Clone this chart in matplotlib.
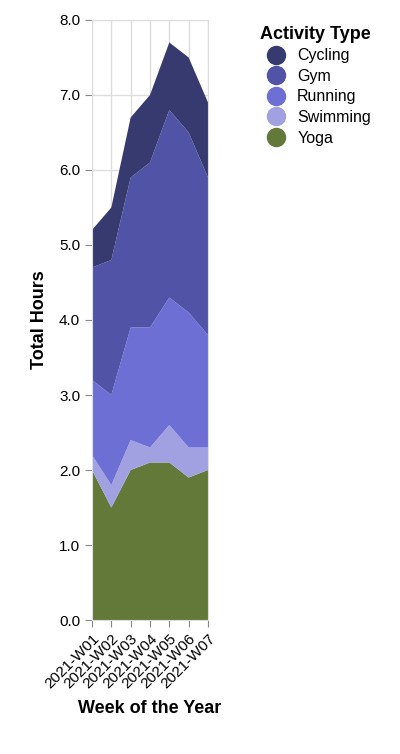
import matplotlib
matplotlib.use("Agg")
import matplotlib.pyplot as plt
from matplotlib.lines import Line2D
import numpy as np

weeks = ["2021-W01","2021-W02","2021-W03","2021-W04","2021-W05","2021-W06","2021-W07"]
yoga =     [2.0,1.5,2.0,2.1,2.1,1.9,2.0]
swimming = [0.2,0.3,0.4,0.2,0.5,0.4,0.3]
running =  [1.0,1.2,1.5,1.6,1.7,1.8,1.5]
gym =      [1.5,1.8,2.0,2.2,2.5,2.4,2.1]
cycling =  [0.5,0.7,0.8,0.9,0.9,1.0,1.0]

names = ["Yoga","Swimming","Running","Gym","Cycling"]
series = [yoga, swimming, running, gym, cycling]
colors = {"Cycling":"#363a6f","Gym":"#5154a6","Running":"#6e6fd5","Swimming":"#a1a1e2","Yoga":"#63793a"}

plt.rcParams['font.family'] = ['Liberation Sans', 'DejaVu Sans']
fig = plt.figure(figsize=(4,7.54), dpi=100)
ax = fig.add_axes([0.23, 0.1777, 0.29, 0.7958])
x = np.arange(len(weeks))
ax.stackplot(x, *series, colors=[colors[n] for n in names], linewidth=0, zorder=2)
ax.set_xlim(0, len(weeks)-1)
ax.set_ylim(0, 8)
ax.set_yticks(np.arange(0, 8.1, 1.0))
ax.set_yticklabels([f"{v:.1f}" for v in np.arange(0, 8.1, 1.0)], fontsize=11)
ax.set_xticks(x)
ax.set_xticklabels(weeks, rotation=45, ha="right", rotation_mode="anchor", fontsize=11)
ax.grid(True, color="#dddddd", linewidth=1, zorder=0)
ax.set_axisbelow(True)
for s in ax.spines.values():
    s.set_color("#dddddd")
ax.tick_params(colors="#888888", labelcolor="black", length=5)
ax.set_ylabel("Total Hours", fontsize=13, fontweight="bold", labelpad=8)
ax.set_xlabel("Week of the Year", fontsize=13, fontweight="bold", labelpad=6)

handles = [Line2D([0],[0], marker='o', linestyle='', markersize=13, markerfacecolor=colors[n], markeredgecolor=colors[n])
           for n in ["Cycling","Gym","Running","Swimming","Yoga"]]
leg = fig.legend(handles, ["Cycling","Gym","Running","Swimming","Yoga"], loc="upper left",
                 bbox_to_anchor=(0.615, 0.985), frameon=False, title="Activity Type",
                 fontsize=11.5, title_fontproperties={"weight":"bold","size":13},
                 handletextpad=0.3, labelspacing=0.35, alignment="left")
fig.savefig("out.png", dpi=100)
